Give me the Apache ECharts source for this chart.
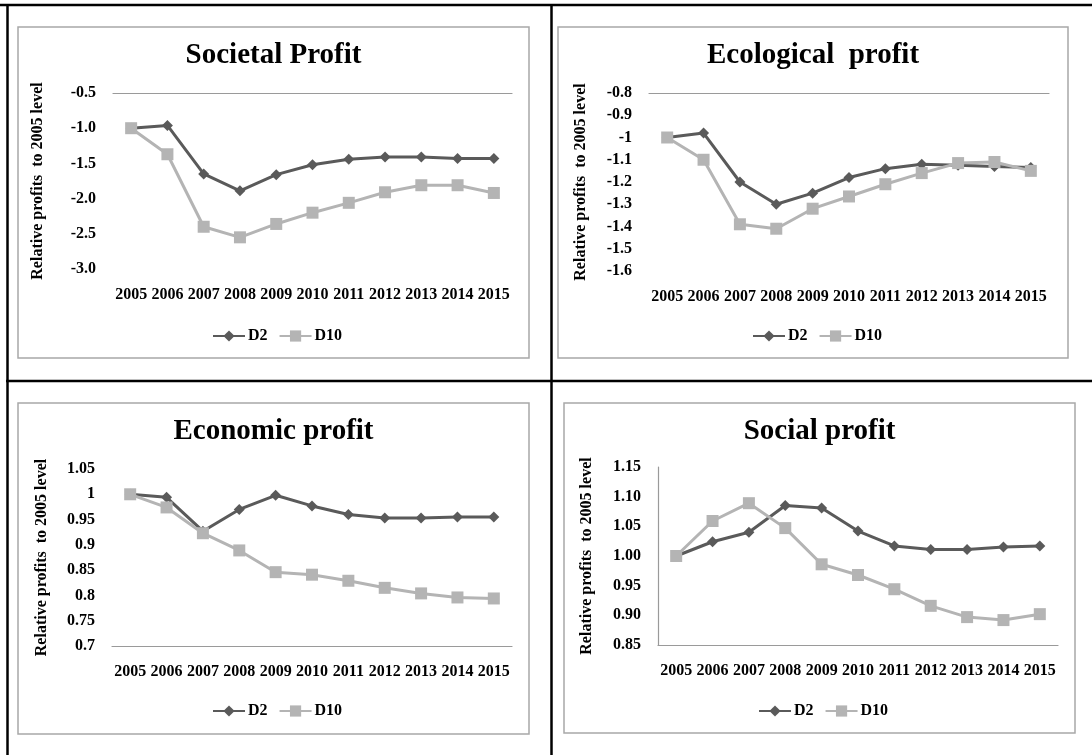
<!DOCTYPE html>
<html>
<head>
<meta charset="utf-8">
<script src="https://cdn.jsdelivr.net/npm/echarts@6/dist/echarts.min.js"></script>
<style>
  html, body { margin: 0; padding: 0; background: #ffffff; }
  #chart { width: 1092px; height: 755px; }
</style>
</head>
<body>
<div id="chart"></div>
<script>
// Years on the category axis
const years = ['2005', '2006', '2007', '2008', '2009', '2010', '2011', '2012', '2013', '2014', '2015'];
const seriesNames = ['D2', 'D10'];
const yAxisTitle = 'Relative profits  to 2005 level';

// Panel titles
const titles = ['Societal Profit', 'Ecological  profit', 'Economic profit', 'Social profit'];

// Relative profits, D2 and D10, per panel
const societalD2   = [-1.00, -0.96, -1.65, -1.89, -1.66, -1.52, -1.44, -1.41, -1.41, -1.43, -1.43];
const societalD10  = [-1.00, -1.37, -2.40, -2.55, -2.36, -2.20, -2.06, -1.91, -1.81, -1.81, -1.92];
const ecologicalD2  = [-1.00, -0.98, -1.20, -1.30, -1.25, -1.18, -1.14, -1.12, -1.125, -1.13, -1.135];
const ecologicalD10 = [-1.00, -1.10, -1.39, -1.41, -1.32, -1.265, -1.21, -1.16, -1.115, -1.11, -1.15];
const economicD2  = [1.000, 0.994, 0.927, 0.970, 0.998, 0.977, 0.960, 0.953, 0.953, 0.955, 0.955];
const economicD10 = [1.000, 0.974, 0.923, 0.889, 0.846, 0.841, 0.829, 0.815, 0.804, 0.796, 0.794];
const socialD2  = [1.000, 1.024, 1.040, 1.085, 1.081, 1.042, 1.017, 1.011, 1.011, 1.015, 1.017];
const socialD10 = [1.000, 1.059, 1.089, 1.047, 0.986, 0.968, 0.944, 0.916, 0.897, 0.892, 0.902];

// Value-axis ranges: [min, max, step]
const societalRange   = [-3.0, -0.5, 0.5];
const ecologicalRange = [-1.6, -0.8, 0.1];
const economicRange   = [0.7, 1.05, 0.05];
const socialRange     = [0.85, 1.15, 0.05];

const FONT = '"Liberation Serif", "Times New Roman", serif';
const DARK = '#5a5a5a';
const LIGHT = '#b4b4b4';
const AXIS_GRAY = '#9a9a9a';

// Layout and axis styling of the four panels
const panels = [
  { title: titles[0], d2: societalD2, d10: societalD10, range: societalRange,
    fmt: v => v.toFixed(1), lineAt: 'top', yLine: false,
    frame: [18, 27, 511, 331], grid: [113, 93, 399, 176], nameGap: 67, legendY: 336 },
  { title: titles[1], d2: ecologicalD2, d10: ecologicalD10, range: ecologicalRange,
    fmt: null, lineAt: 'top', yLine: false,
    frame: [558, 27, 510, 331], grid: [649, 93, 400, 178], nameGap: 60, legendY: 336 },
  { title: titles[2], d2: economicD2, d10: economicD10, range: economicRange,
    fmt: null, lineAt: 'bottom', yLine: false,
    frame: [18, 403, 511, 331], grid: [112, 469, 400, 177], nameGap: 62, legendY: 711 },
  { title: titles[3], d2: socialD2, d10: socialD10, range: socialRange,
    fmt: v => v.toFixed(2), lineAt: 'bottom', yLine: true,
    frame: [564, 403, 511, 330], grid: [658, 467, 400, 178], nameGap: 63, legendY: 711 }
];

const option = {
  animation: false,
  backgroundColor: '#ffffff',
  title: [], grid: [], xAxis: [], yAxis: [], series: [], legend: [], graphic: []
};

panels.forEach((p, i) => {
  const [fx, fy, fw, fh] = p.frame;
  const [gx, gy, gw, gh] = p.grid;

  option.graphic.push({
    type: 'rect', silent: true, z: 0,
    shape: { x: fx, y: fy, width: fw, height: fh },
    style: { fill: 'none', stroke: '#a8a8a8', lineWidth: 1.5 }
  });

  option.title.push({
    text: p.title, left: fx + fw / 2, top: fy + 14, padding: 0, textAlign: 'center',
    textStyle: { fontFamily: FONT, fontWeight: 'bold', fontSize: 29, color: '#000' }
  });

  option.grid.push({ left: gx, top: gy, width: gw, height: gh, containLabel: false });

  const labelAxisIndex = option.xAxis.length;
  option.xAxis.push({
    gridIndex: i, type: 'category', data: years, position: 'bottom', boundaryGap: true,
    axisLine: { show: p.lineAt === 'bottom', lineStyle: { color: AXIS_GRAY, width: 1.2 } },
    axisTick: { show: false },
    axisLabel: { interval: 0, margin: 18, color: '#000', fontFamily: FONT, fontWeight: 'bold', fontSize: 16 },
    splitLine: { show: false }
  });
  if (p.lineAt === 'top') {
    option.xAxis.push({
      gridIndex: i, type: 'category', data: years, position: 'top',
      axisLine: { show: true, lineStyle: { color: AXIS_GRAY, width: 1.2 } },
      axisTick: { show: false }, axisLabel: { show: false }, splitLine: { show: false }
    });
  }

  const [ymin, ymax, ystep] = p.range;
  const axisLabel = { margin: 17, color: '#000', fontFamily: FONT, fontWeight: 'bold', fontSize: 16 };
  if (p.fmt) axisLabel.formatter = p.fmt;
  option.yAxis.push({
    gridIndex: i, type: 'value', min: ymin, max: ymax, interval: ystep,
    axisLine: { show: p.yLine, lineStyle: { color: AXIS_GRAY, width: 1.2 } },
    axisTick: { show: false }, splitLine: { show: false }, axisLabel,
    name: yAxisTitle, nameLocation: 'middle', nameRotate: 90, nameGap: p.nameGap,
    nameTextStyle: { fontFamily: FONT, fontWeight: 'bold', fontSize: 16, color: '#000' }
  });

  option.series.push({
    name: seriesNames[0], type: 'line', xAxisIndex: labelAxisIndex, yAxisIndex: i,
    data: p.d2, symbol: 'diamond', symbolSize: 11,
    lineStyle: { color: DARK, width: 3 }, itemStyle: { color: DARK }
  });
  option.series.push({
    name: seriesNames[1], type: 'line', xAxisIndex: labelAxisIndex, yAxisIndex: i,
    data: p.d10, symbol: 'rect', symbolSize: 12,
    lineStyle: { color: LIGHT, width: 3 }, itemStyle: { color: LIGHT }
  });

  option.legend.push({
    data: seriesNames, left: fx + 194, top: p.legendY - 8, padding: 0,
    itemWidth: 32, itemHeight: 14, itemGap: 11, selectedMode: false,
    textStyle: { fontFamily: FONT, fontWeight: 'bold', fontSize: 16, color: '#000', padding: [0, 0, 0, -2] }
  });
});

// Black cell borders of the surrounding table
const black = { stroke: '#000', lineWidth: 2.5 };
option.graphic.push(
  { type: 'line', silent: true, shape: { x1: 0, y1: 5, x2: 1092, y2: 5 }, style: black },
  { type: 'line', silent: true, shape: { x1: 7.5, y1: 4, x2: 7.5, y2: 755 }, style: black },
  { type: 'line', silent: true, shape: { x1: 551.5, y1: 4, x2: 551.5, y2: 755 }, style: black },
  { type: 'line', silent: true, shape: { x1: 6, y1: 381, x2: 1092, y2: 381 }, style: black }
);

const chart = echarts.init(document.getElementById('chart'), null, { renderer: 'canvas' });
chart.setOption(option);
</script>
</body>
</html>
